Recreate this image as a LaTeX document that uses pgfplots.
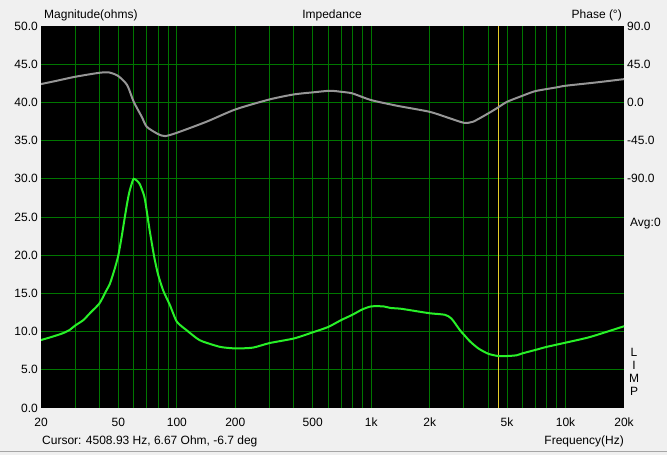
\documentclass[border=0pt]{standalone}
\usepackage{pgfplots}
\pgfplotsset{compat=1.18}
\usepackage{fontspec}
\setmainfont{Liberation Sans}
\definecolor{bg}{RGB}{240,240,240}
\definecolor{gridg}{RGB}{0,118,0}
\definecolor{limeg}{RGB}{40,240,40}
\definecolor{phgray}{RGB}{150,150,150}
\definecolor{curs}{RGB}{230,205,40}
\begin{document}
\fontsize{12bp}{14bp}\selectfont
\begin{tikzpicture}
\fill[bg] (0,0) rectangle (667bp,455bp);
\path[use as bounding box] (0,0) rectangle (667bp,455bp);
\draw[black!35, line width=1bp] (0,3.5bp) -- (667bp,3.5bp);
\begin{axis}[
  at={(41bp,47bp)}, anchor=south west, scale only axis,
  width=583bp, height=382bp,
  xmode=log, xmin=20, xmax=20000, ymin=0, ymax=50,
  axis background/.style={fill=black},
  axis line style={draw=none},
  tick style={draw=none}, major tick length=0pt, minor tick length=0pt,
  xtick={30,40,50,60,70,80,90,100,200,300,400,500,600,700,800,900,1000,2000,3000,4000,5000,6000,7000,8000,9000,10000},
  xticklabels={,,50,,,,,100,200,,,500,,,,,1k,2k,,,5k,,,,,10k},
  extra x ticks={20,20000}, extra x tick labels={20,20k},
  extra x tick style={grid=none},
  ytick={5,10,15,20,25,30,35,40,45},
  yticklabels={5.0,10.0,15.0,20.0,25.0,30.0,35.0,40.0,45.0},
  extra y ticks={0,50}, extra y tick labels={0.0,50.0},
  extra y tick style={grid=none},
  grid=major,
  major grid style={gridg, line width=0.9bp},
  xticklabel style={font=\fontsize{12bp}{14bp}\selectfont, inner sep=0pt, anchor=center, yshift=-14bp},
  yticklabel style={font=\fontsize{12bp}{14bp}\selectfont, inner sep=0pt, anchor=east, xshift=-3bp},
  clip=true,
]
\addplot[curs, line width=1bp] coordinates {(4508.93,0) (4508.93,50)};
\addplot[limeg, line width=2bp, smooth, tension=0.4] coordinates {
(20,8.9) (22,9.2) (24,9.5) (26,9.8) (28,10.2) (30,10.8) (33,11.5) (36,12.5)
(40,13.7) (43,15.2) (45.3,16.3) (48,18.3) (50,20.0) (52,22.4) (54,25.0)
(55.5,26.8) (57,28.3) (59,29.6) (60,30.0) (62,29.8) (64.5,29.3) (68,27.7)
(70,25.8) (72,23.7) (75,21.0) (77,19.4) (80,17.5) (85,15.4) (92,13.5)
(100,11.3) (112,10.2) (127,9.1) (136,8.7) (167,8.0) (200,7.8) (246,7.9)
(300,8.5) (400,9.1) (500,9.9) (600,10.6) (700,11.5) (800,12.2) (900,12.9)
(1000,13.3) (1156,13.3) (1253,13.1) (1413,13.0) (1590,12.8) (2000,12.4)
(2395,12.2) (2590,11.7) (2860,10.2) (3000,9.6) (3230,8.7) (3560,7.8)
(4000,7.1) (4509,6.8) (5000,6.8) (5600,6.9) (6000,7.15) (7000,7.6)
(8000,8.0) (10000,8.55) (13400,9.3) (20000,10.7)
};
\end{axis}
\begin{axis}[
  at={(41bp,47bp)}, anchor=south west, scale only axis,
  width=583bp, height=382bp,
  xmode=log, xmin=20, xmax=20000, ymin=-360, ymax=90,
  hide x axis, axis y line*=right,
  y axis line style={draw=none},
  tick style={draw=none}, major tick length=0pt, minor tick length=0pt,
  ytick={-90,-45,0,45,90},
  yticklabels={-90.0,-45.0,0.0,45.0,90.0},
  yticklabel style={font=\fontsize{12bp}{14bp}\selectfont, inner sep=0pt, anchor=west, xshift=3bp},
  clip=true,
]
\addplot[phgray, line width=2bp, smooth, tension=0.4] coordinates {
(20,21.6) (24,25.4) (30,30.2) (40,34.9) (45,35.2) (50,31.0) (55.5,20.4)
(60,0.7) (66,-17) (70,-28.7) (80,-37.3) (87,-39.7) (100,-35.8) (142,-22.8)
(200,-8.3) (300,3.5) (400,9.4) (500,11.8) (614,13.7) (700,12.5) (800,10.6)
(1000,2.7) (1362,-4) (2000,-11.1) (2550,-18.9) (3000,-24) (3340,-22.8)
(4000,-13) (4509,-5.8) (5000,0.7) (6000,7.8) (7000,13.3) (9000,17.7)
(10000,19.6) (14500,23.6) (20000,27.4)
};
\end{axis}
\node[anchor=west, inner sep=0pt] at (44bp,440bp) {Magnitude(ohms)};
\node[inner sep=0pt] at (332bp,440bp) {Impedance};
\node[anchor=east, inner sep=0pt] at (622bp,440bp) {Phase (°)};
\node[anchor=west, inner sep=0pt] at (42bp,13.5bp) {Cursor: 4508.93 Hz, 6.67 Ohm, -6.7 deg};
\node[anchor=east, inner sep=0pt] at (624bp,13.5bp) {Frequency(Hz)};
\node[anchor=west, inner sep=0pt] at (630bp,231bp) {Avg:0};
\node[inner sep=0pt] at (634bp,103bp) {L};
\node[inner sep=0pt] at (634bp,90bp) {I};
\node[inner sep=0pt] at (634bp,77bp) {M};
\node[inner sep=0pt] at (634bp,63.5bp) {P};
\end{tikzpicture}
\end{document}
